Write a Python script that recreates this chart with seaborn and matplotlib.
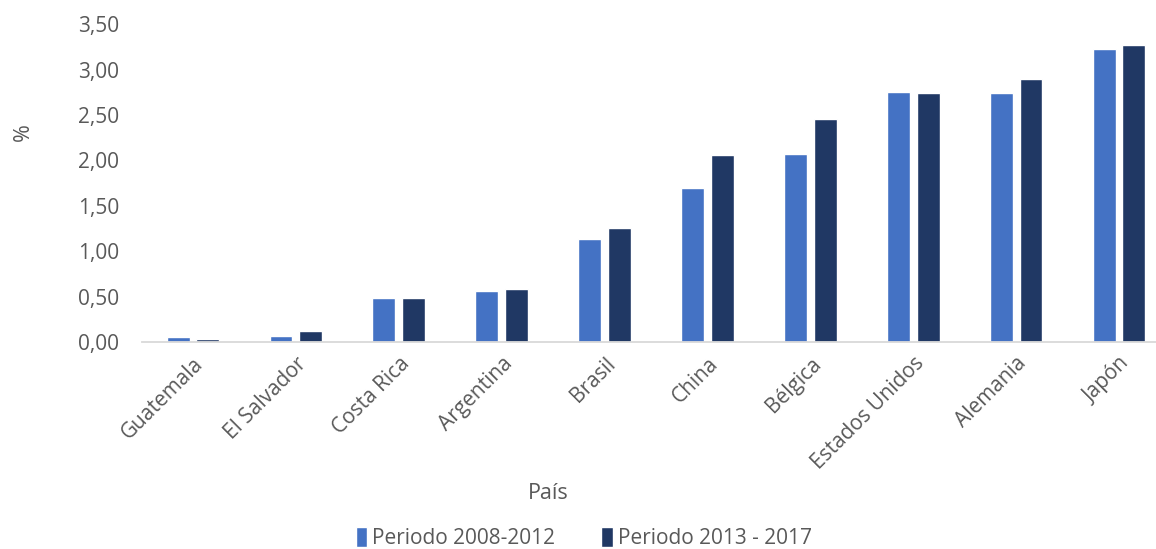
import matplotlib
matplotlib.use("Agg")
import matplotlib.pyplot as plt
import seaborn as sns
import pandas as pd

paises = ["Guatemala", "El Salvador", "Costa Rica", "Argentina", "Brasil",
          "China", "Bélgica", "Estados Unidos", "Alemania", "Japón"]
periodo_2008_2012 = [0.05, 0.07, 0.48, 0.56, 1.13, 1.70, 2.07, 2.75, 2.74, 3.23]
periodo_2013_2017 = [0.03, 0.12, 0.48, 0.58, 1.26, 2.06, 2.46, 2.74, 2.90, 3.27]
series = ["Periodo 2008-2012", "Periodo 2013 - 2017"]
yticks = [0.0, 0.5, 1.0, 1.5, 2.0, 2.5, 3.0, 3.5]

df = pd.DataFrame({
    "País": paises * 2,
    "valor": periodo_2008_2012 + periodo_2013_2017,
    "serie": [series[0]] * len(paises) + [series[1]] * len(paises),
})

sns.set_theme(style="white")
plt.rcParams["font.family"] = ["Open Sans", "DejaVu Sans"]
text_color = "#595959"

fig = plt.figure(figsize=(11.56, 5.49), dpi=100)
ax = fig.add_axes([0.1225, 0.377, 0.8775, 0.579])

sns.barplot(data=df, x="País", y="valor", hue="serie",
            palette=["#4472C4", "#203864"], width=0.58, gap=0.23,
            saturation=1, ax=ax, legend=True)

ax.set_xlim(-0.5, 9.36)
ax.set_ylim(0, 3.5)
ax.set_yticks(yticks)
ax.set_yticklabels([f"{v:.2f}".replace(".", ",") for v in yticks],
                   fontsize=15, color=text_color)
ax.tick_params(axis="y", length=0, pad=16)
ax.tick_params(axis="x", length=0, pad=8)
plt.setp(ax.get_xticklabels(), rotation=45, ha="right",
         rotation_mode="anchor", fontsize=15, color=text_color)

for side in ["left", "right", "top"]:
    ax.spines[side].set_visible(False)
ax.spines["bottom"].set_color("#d9d9d9")
ax.spines["bottom"].set_linewidth(1.3)
ax.grid(False)

ax.set_xlabel("")
ax.set_ylabel("")
fig.text(0.474, 0.102, "País", fontsize=15.5, color=text_color,
         ha="center", va="center")
fig.text(0.02, 0.76, "%", rotation=90, fontsize=15.5, color=text_color,
         ha="center", va="center")

handles, labels = ax.get_legend_handles_labels()
ax.legend_.remove()
fig.legend(handles, labels, loc="lower center", bbox_to_anchor=(0.505, -0.035),
           ncol=2, frameon=False, fontsize=15, labelcolor=text_color,
           handlelength=0.55, handleheight=1.1, handletextpad=0.25,
           columnspacing=2.2)

fig.savefig("out.png", dpi=100)
